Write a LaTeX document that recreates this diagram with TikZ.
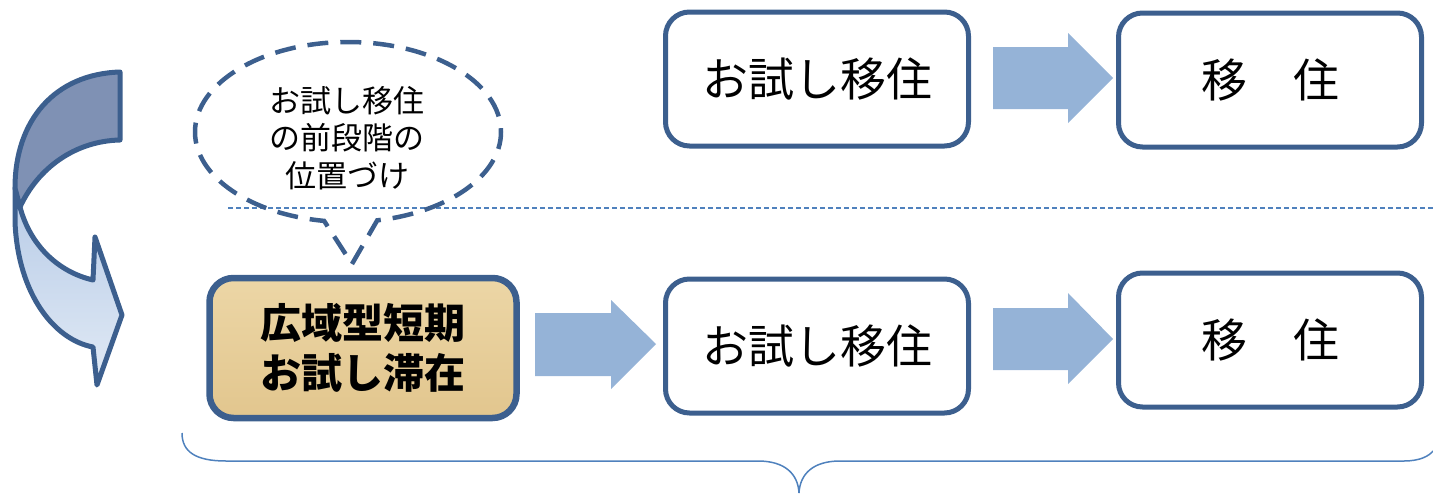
\documentclass[tikz,border=0pt]{standalone}
\usepackage{fontspec}
\newfontfamily\jp{Noto Sans CJK JP}
\usetikzlibrary{shapes.callouts}
\definecolor{boxline}{HTML}{3C5F8E}
\definecolor{arrowfill}{HTML}{95B3D7}
\definecolor{sepline}{HTML}{4F81BD}
\definecolor{darkband}{HTML}{7F91B4}
\definecolor{lighttop}{HTML}{B7CBE7}
\definecolor{lightbot}{HTML}{E1EAF5}
\definecolor{tantop}{HTML}{ECD6A6}
\definecolor{tanbot}{HTML}{E2C68E}
\tikzset{
  stagebox/.style={draw=boxline, line width=5pt, rounded corners=24pt, fill=white,
    minimum width=303pt, minimum height=134pt, inner sep=0pt,
    font=\jp\fontsize{46}{50}\selectfont},
  blockarrow/.style={fill=arrowfill, draw=none},
  bandline/.style={draw=boxline, line width=5pt, line join=round},
}
\begin{document}
\begin{tikzpicture}[x=1pt, y=-1pt]
\useasboundingbox (0,0) rectangle (1433,493);

% separator
\draw[sepline, line width=1.6pt, dash pattern=on 5pt off 3pt] (228,208) -- (1433,208);

% left curved arrow
\path[bandline, top color=lighttop, bottom color=lightbot]
  (15,188) -- (15,222) .. controls (18,295) and (55,340) .. (93,347)
  -- (97,385) -- (122,315) -- (95,237) -- (93,280)
  .. controls (58,272) and (30,245) .. (20,207) -- cycle;
\path[bandline, fill=darkband]
  (120,72) .. controls (55,74) and (15,120) .. (15,188) -- (20,207)
  .. controls (38,168) and (75,141) .. (120,140) -- cycle;

% callout
\node[ellipse callout, draw=boxline, line width=4.5pt, dash pattern=on 21pt off 12pt,
  minimum width=306pt, minimum height=180pt, callout pointer arc=20,
  callout absolute pointer={(352,264)}] (callout) at (348,132) {};
\node[font=\jp\fontsize{31}{37.5}\selectfont, align=center] (callouttext) at (347,138)
  {お試し移住\\の前段階の\\位置づけ};

% top row
\node[stagebox] (t1) at (817,79) {お試し移住};
\node[stagebox] (t2) at (1270,80) {移　住};
\fill[blockarrow] (993,47) -- (1068,47) -- (1068,33) -- (1113,78) -- (1068,123) -- (1068,109) -- (993,109) -- cycle;

% bottom row
\node[draw=boxline, line width=6.5pt, rounded corners=24pt, top color=tantop, bottom color=tanbot,
  minimum width=307pt, minimum height=140pt, inner sep=0pt, align=center,
  font=\jp\bfseries\fontsize{41}{50}\selectfont] (b0) at (363,348) {広域型短期\\お試し滞在};
\fill[blockarrow] (535,313) -- (611,313) -- (611,300) -- (656,344) -- (611,389) -- (611,376) -- (535,376) -- cycle;
\node[stagebox] (b1) at (817,346) {お試し移住};
\fill[blockarrow] (993,308) -- (1068,308) -- (1068,293) -- (1113,339) -- (1068,384) -- (1068,370) -- (993,370) -- cycle;
\node[stagebox] (b2) at (1270,340) {移　住};

% brace
\draw[sepline, line width=1.5pt]
  (182,433) .. controls (182,452) and (196,461) .. (226,461) -- (758,461)
  .. controls (785,461) and (798,474) .. (799,493)
  .. controls (800,474) and (813,461) .. (840,461) -- (1404,461)
  .. controls (1420,461) and (1429,456) .. (1433,451);
\end{tikzpicture}
\end{document}
